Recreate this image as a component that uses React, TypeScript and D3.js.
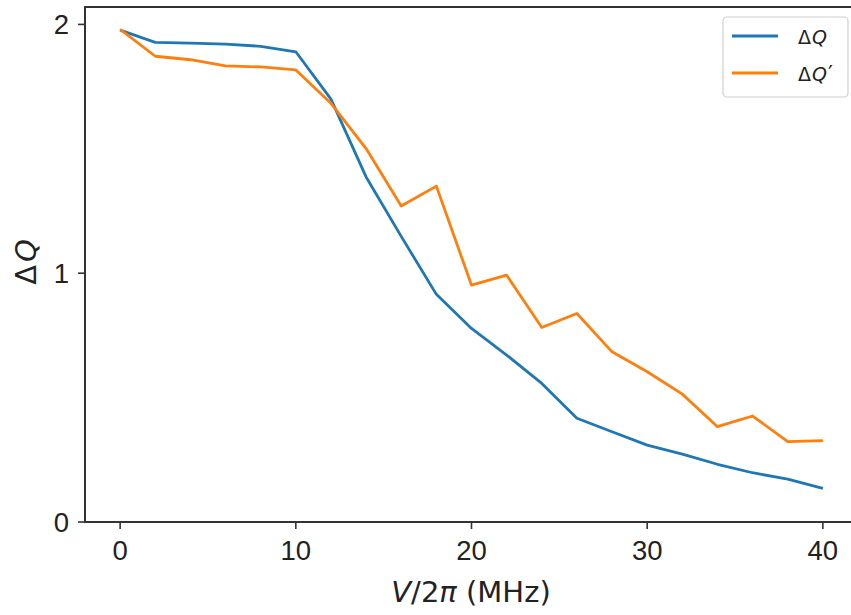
import React from "react";
import * as d3 from "d3";

const xValues = [0, 2, 4, 6, 8, 10, 12, 14, 16, 18, 20, 22, 24, 26, 28, 30, 32, 34, 36, 38, 40];
const dQ = [1.977, 1.928, 1.925, 1.921, 1.912, 1.89, 1.70, 1.387, 1.148, 0.915, 0.778, 0.671, 0.557, 0.417, 0.363, 0.309, 0.273, 0.232, 0.198, 0.172, 0.135];
const dQp = [1.98, 1.872, 1.858, 1.833, 1.829, 1.817, 1.683, 1.501, 1.27, 1.35, 0.952, 0.992, 0.782, 0.838, 0.684, 0.604, 0.514, 0.383, 0.426, 0.323, 0.327];
const xTicks = [0, 10, 20, 30, 40];
const yTicks = [0, 1, 2];

const W = 851;
const H = 615;
const L = 85, R = 858, T = 7, B = 522;
const FONT = "'Liberation Sans', Arial, sans-serif";
const MATH = "'DejaVu Sans', sans-serif";

export default function App() {
  const x = d3.scaleLinear().domain([-2, 42]).range([L, R]);
  const y = d3.scaleLinear().domain([0, 2.07]).range([B, T]);
  const line = d3
    .line<number>()
    .x((_, i) => x(xValues[i]))
    .y((d) => y(d));
  const axisColor = "#333";
  return (
    <svg
      width={W}
      height={H}
      style={{ position: "absolute", left: 0, top: 0, background: "#fff" }}
      fontFamily={FONT}
    >
      <rect x={0} y={0} width={W} height={H} fill="#fff" />
      <path d={line(dQ) || ""} fill="none" stroke="#1f77b4" strokeWidth={2.8} strokeLinejoin="round" />
      <path d={line(dQp) || ""} fill="none" stroke="#ff7f0e" strokeWidth={2.8} strokeLinejoin="round" />
      {/* spines */}
      <rect x={L} y={T} width={R - L} height={B - T} fill="none" stroke={axisColor} strokeWidth={2} />
      {/* x ticks */}
      {xTicks.map((t) => (
        <g key={"x" + t}>
          <line x1={x(t)} x2={x(t)} y1={B} y2={B + 7} stroke={axisColor} strokeWidth={1.6} />
          <text x={x(t)} y={560} textAnchor="middle" fontSize={27.5} fill="#222">
            {t}
          </text>
        </g>
      ))}
      {yTicks.map((t) => (
        <g key={"y" + t}>
          <line x1={L - 7} x2={L} y1={y(t)} y2={y(t)} stroke={axisColor} strokeWidth={1.6} />
          <text x={69} y={y(t) + 10} textAnchor="end" fontSize={27.5} fill="#222">
            {t}
          </text>
        </g>
      ))}
      {/* x label */}
      <text x={471} y={602} textAnchor="middle" fontSize={29} fill="#222" fontFamily={MATH}>
        <tspan fontStyle="italic">V</tspan>
        <tspan>/2</tspan>
        <tspan fontStyle="italic">π</tspan>
        <tspan> (MHz)</tspan>
      </text>
      {/* y label */}
      <text
        transform={`translate(36, 262) rotate(-90)`}
        textAnchor="middle"
        fontSize={29}
        fill="#222"
        fontFamily={MATH}
      >
        <tspan>Δ</tspan>
        <tspan fontStyle="italic" dx={3}>Q</tspan>
      </text>
      {/* legend */}
      <rect x={723} y={17} width={125} height={80} rx={4} fill="#fff" fillOpacity={0.8} stroke="#d0d0d0" strokeWidth={1.2} />
      <line x1={732} x2={778} y1={36} y2={36} stroke="#1f77b4" strokeWidth={2.8} />
      <line x1={732} x2={778} y1={73} y2={73} stroke="#ff7f0e" strokeWidth={2.8} />
      <text x={798} y={44} fontSize={19} fill="#222" fontFamily={MATH}>
        <tspan>Δ</tspan>
        <tspan fontStyle="italic" dx={1}>Q</tspan>
      </text>
      <text x={798} y={81} fontSize={19} fill="#222" fontFamily={MATH}>
        <tspan>Δ</tspan>
        <tspan fontStyle="italic" dx={1}>Q</tspan>
        <tspan fontSize={22} dx={1}>′</tspan>
      </text>
    </svg>
  );
}
